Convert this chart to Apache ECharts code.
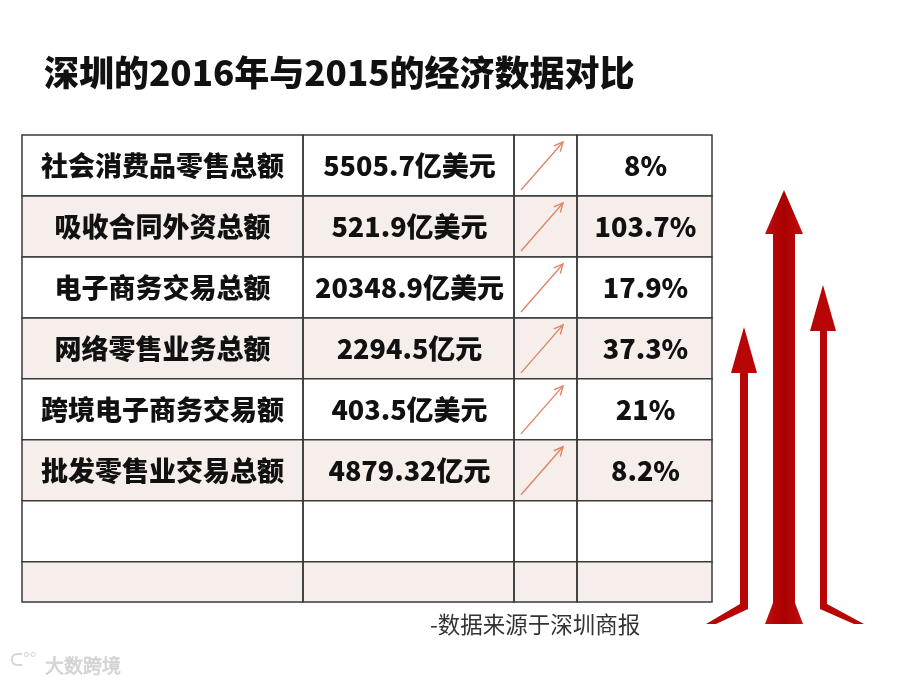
<!DOCTYPE html>
<html>
<head>
<meta charset="utf-8">
<script src="https://cdn.jsdelivr.net/npm/echarts@6/dist/echarts.min.js"></script>
<style>
html,body{margin:0;padding:0;background:#fff;}
#chart{width:900px;height:683px;}
</style>
</head>
<body>
<div id="chart"></div>
<script>
// ---- data ----
const categories = ['社会消费品零售总额', '吸收合同外资总额', '电子商务交易总额', '网络零售业务总额', '跨境电子商务交易额', '批发零售业交易总额', '', ''];
const amounts2016 = [5505.7, 521.9, 20348.9, 2294.5, 403.5, 4879.32, null, null];
const units = ['亿美元', '亿美元', '亿美元', '亿元', '亿美元', '亿元', '', ''];
const growthPct = [8, 103.7, 17.9, 37.3, 21, 8.2, null, null];
const titleText = '深圳的2016年与2015的经济数据对比';
const sourceText = '-数据来源于深圳商报';
const watermarkText = '大数跨境';

// ---- layout (not data) ----
const colEdges = [0, 281, 492, 555, 690];
const rowSpan = 7.66; // last row is shorter
const FONT = '"Noto Sans CJK SC", "Noto Sans", sans-serif';

const chart = echarts.init(document.getElementById('chart'));

function renderRow(params, api) {
  const i = api.value(0);
  const y0 = api.coord([0, i])[1];
  const y1 = api.coord([0, Math.min(i + 1, rowSpan)])[1];
  const xs = colEdges.map(c => api.coord([c, 0])[0]);
  const fill = i % 2 === 0 ? '#ffffff' : '#f5eeeb';
  const children = [];
  children.push({type: 'rect', shape: {x: xs[0], y: y0, width: xs[4] - xs[0], height: y1 - y0}, style: {fill: fill}});
  for (let c = 0; c < 4; c++) {
    children.push({type: 'rect', shape: {x: xs[c], y: y0, width: xs[c + 1] - xs[c], height: y1 - y0},
      style: {fill: 'none', stroke: '#3a3a3a', lineWidth: 1.5}});
  }
  const cy = (y0 + y1) / 2;
  const textStyle = (t, cx) => ({type: 'text', x: cx, y: cy, style: {text: t, fill: '#111', font: '900 27px ' + FONT, textAlign: 'center', textVerticalAlign: 'middle'}});
  if (categories[i]) {
    children.push(textStyle(categories[i], (xs[0] + xs[1]) / 2));
  }
  if (amounts2016[i] != null) {
    children.push(textStyle(String(amounts2016[i]) + units[i], (xs[1] + xs[2]) / 2 + 1));
  }
  if (growthPct[i] != null) {
    children.push(textStyle(String(growthPct[i]) + '%', (xs[3] + xs[4]) / 2 + 1));
    // small growth arrow
    const ax0 = xs[2] + 7, ay0 = y0 + 55, ax1 = xs[2] + 49, ay1 = y0 + 7;
    const ang = Math.atan2(ay1 - ay0, ax1 - ax0);
    const hl = 10, hw = 0.45;
    children.push({type: 'polyline', shape: {points: [[ax0, ay0], [ax1, ay1]]}, style: {stroke: '#de8466', lineWidth: 1.4, fill: 'none'}});
    children.push({type: 'polyline', shape: {points: [
      [ax1 - hl * Math.cos(ang - hw), ay1 - hl * Math.sin(ang - hw)],
      [ax1, ay1],
      [ax1 - hl * Math.cos(ang + hw), ay1 - hl * Math.sin(ang + hw)]
    ]}, style: {stroke: '#de8466', lineWidth: 1.4, fill: 'none'}});
  }
  return {type: 'group', children: children};
}

const redArrow = {type: 'linear', x: 0, y: 0, x2: 1, y2: 0, colorStops: [
  {offset: 0, color: '#c20d0d'}, {offset: 0.5, color: '#a80000'}, {offset: 1, color: '#c20d0d'}]};

chart.setOption({
  backgroundColor: '#ffffff',
  animation: false,
  title: [
    {text: titleText, left: 39, top: 50, textStyle: {fontSize: 35, fontWeight: 900, color: '#111', fontFamily: FONT}},
    {text: sourceText, left: 425, top: 608, textStyle: {fontSize: 22.5, fontWeight: 'normal', color: '#333', fontFamily: FONT}},
    {text: watermarkText, left: 40, top: 651, textStyle: {fontSize: 19, fontWeight: 'normal', color: '#d4d4d4', fontFamily: FONT,
      textBorderColor: '#c4c4c4', textBorderWidth: 0.5}}
  ],
  grid: {left: 22, top: 135, width: 690, height: 467, containLabel: false},
  xAxis: {type: 'value', min: 0, max: 690, show: false},
  yAxis: {type: 'value', min: 0, max: rowSpan, inverse: true, show: false},
  series: [{
    type: 'custom',
    renderItem: renderRow,
    data: categories.map((_, i) => [i]),
    encode: {y: 0},
    silent: true
  }],
  graphic: [
    // decorative red arrows
    {type: 'polygon', shape: {points: [[784,190],[803,234],[795,234],[795,603],[803,624],[765,624],[773,603],[773,234],[765,234]]}, style: {fill: redArrow}},
    {type: 'polygon', shape: {points: [[744,327],[757,373],[748,373],[748,609],[716,624],[706,624],[740,604],[740,373],[731,373]]}, style: {fill: '#b80505'}},
    {type: 'polygon', shape: {points: [[823,285],[836,331],[827,331],[827,604],[864,624],[854,624],[820,609],[820,331],[810,331]]}, style: {fill: '#b80505'}},
    // watermark logo
    {type: 'text', left: 10, top: 650, style: {text: 'ᑕ°°', fill: '#d6d6d6', font: '18px ' + FONT}}
  ]
});
</script>
</body>
</html>
